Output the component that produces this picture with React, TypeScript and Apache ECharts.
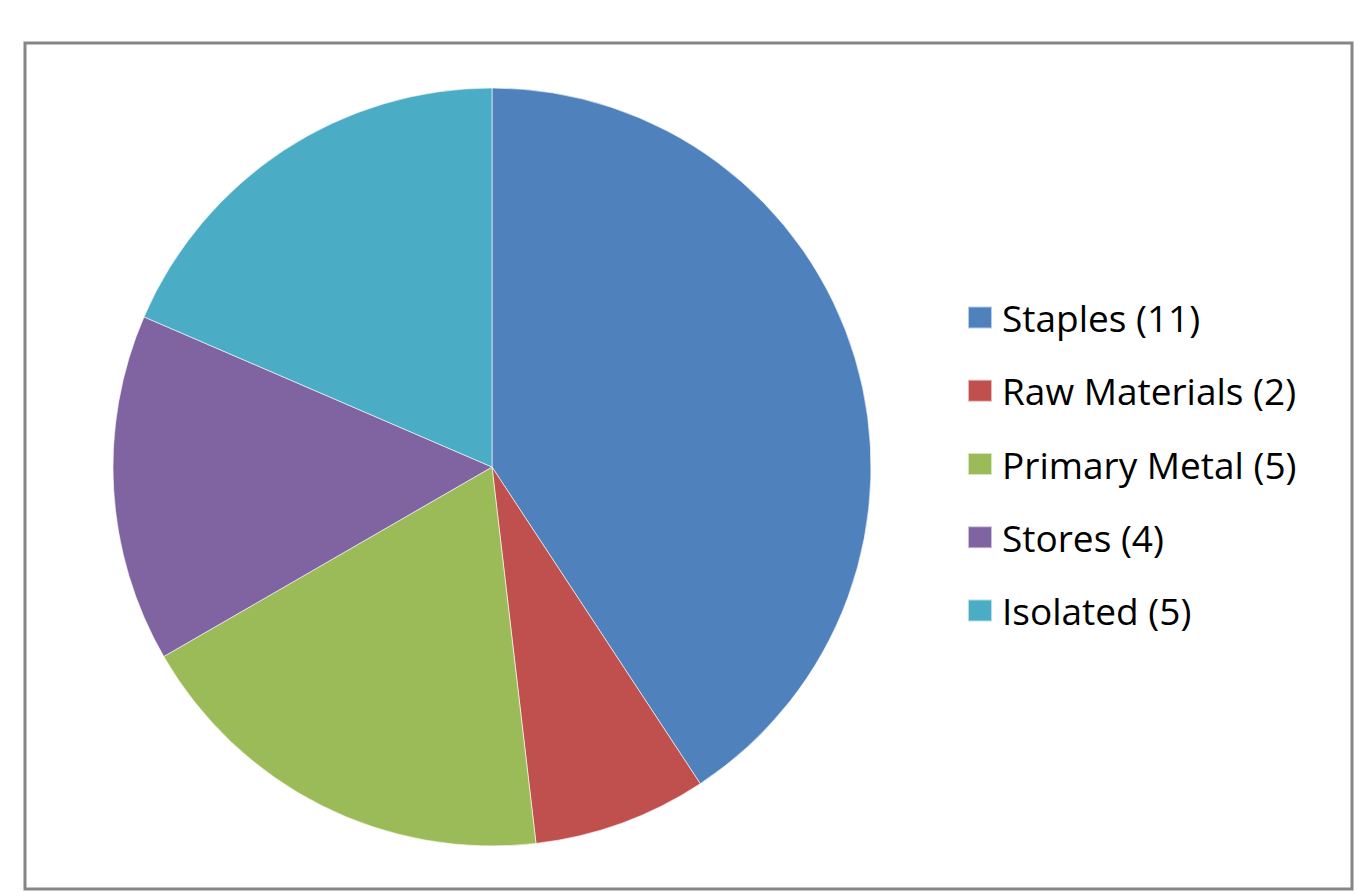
import React, { useEffect, useRef } from "react";
import * as echarts from "echarts";

const categories = ["Staples (11)", "Raw Materials (2)", "Primary Metal (5)", "Stores (4)", "Isolated (5)"];
const values = [11, 2, 5, 4, 5];
const colors = ["#4F81BD", "#C0504D", "#9BBB59", "#8064A2", "#4BACC6"];

export default function App() {
  const ref = useRef<HTMLDivElement>(null);
  useEffect(() => {
    if (!ref.current) return;
    const chart = echarts.init(ref.current, undefined, { renderer: "svg" });
    chart.setOption({
      animation: false,
      backgroundColor: "#ffffff",
      color: colors,
      graphic: [
        {
          type: "rect",
          shape: { x: 25, y: 43, width: 1327, height: 846 },
          style: { fill: "#ffffff", stroke: "#868686", lineWidth: 3 },
          z: -10,
        },
      ],
      legend: {
        orient: "vertical",
        left: 967,
        top: 295.5,
        padding: 0,
        itemWidth: 24,
        itemHeight: 22,
        itemGap: 29.25,
        icon: "rect",
        selectedMode: false,
        textStyle: {
          fontFamily: "Open Sans",
          fontSize: 37,
          color: "#000000",
          padding: [0, 0, 0, 5],
          lineHeight: 44,
        },
        data: categories,
      },
      series: [
        {
          type: "pie",
          center: [492, 467],
          radius: 379,
          startAngle: 90,
          clockwise: true,
          label: { show: false },
          labelLine: { show: false },
          itemStyle: { borderColor: "rgba(255,255,255,0.6)", borderWidth: 1 },
          emphasis: { disabled: true },
          data: categories.map((name, i) => ({ name, value: values[i] })),
        },
      ],
    });
    return () => chart.dispose();
  }, []);
  return <div ref={ref} style={{ position: "fixed", left: 0, top: 0, width: 1355, height: 896 }} />;
}
